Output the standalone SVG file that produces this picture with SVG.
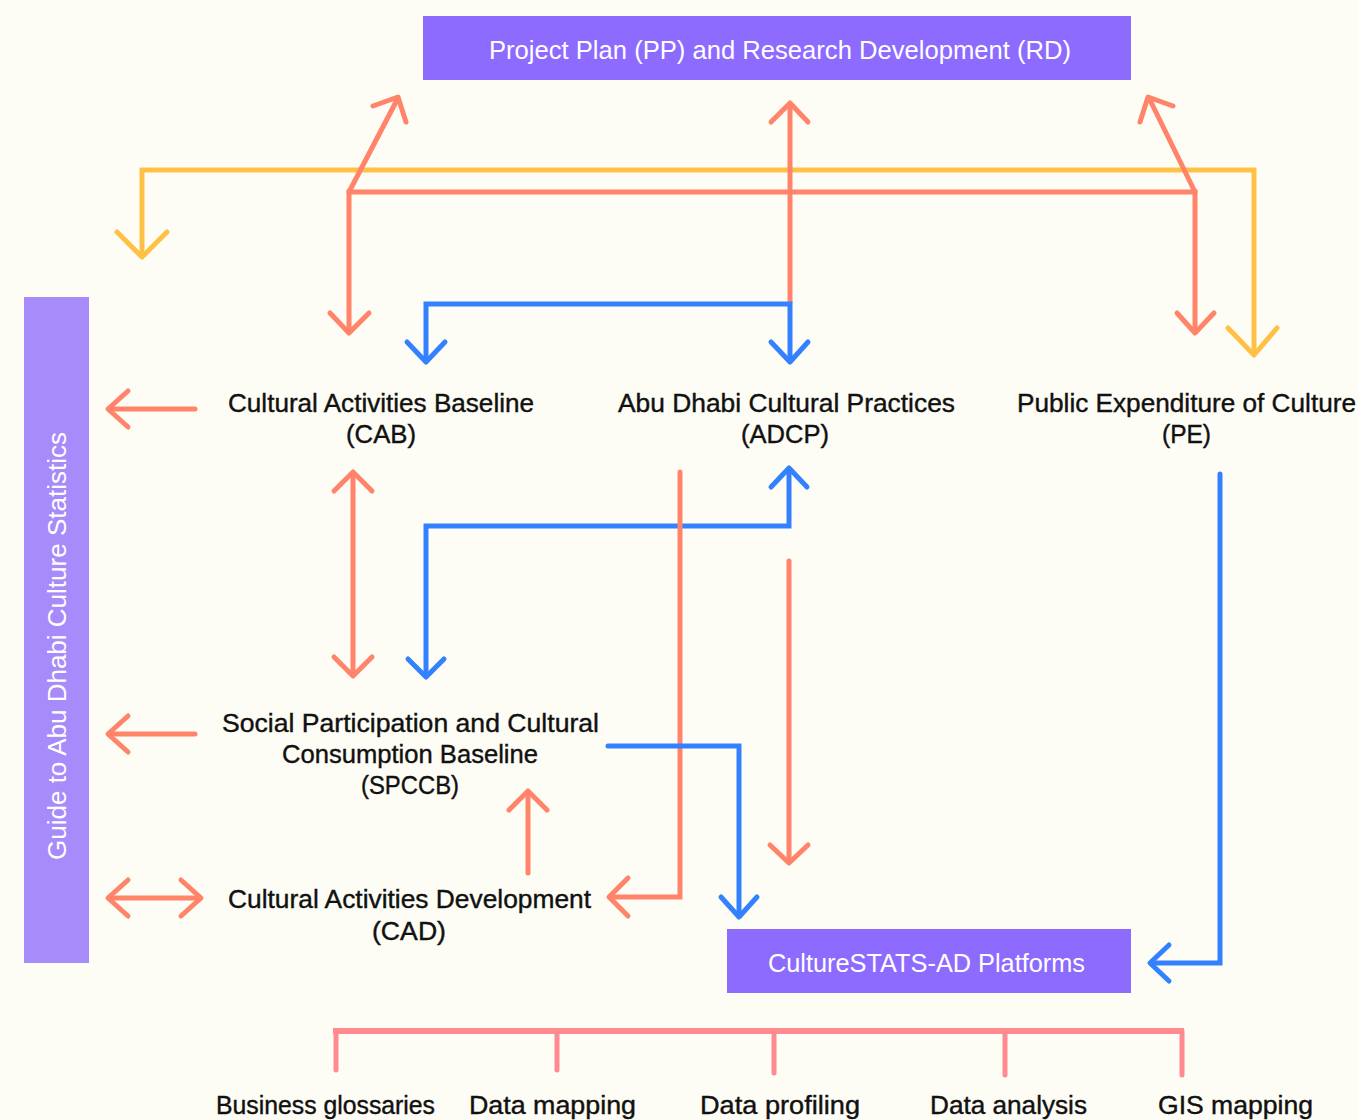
<svg xmlns="http://www.w3.org/2000/svg" width="1359" height="1120" viewBox="0 0 1359 1120">
<style>
.o{fill:none;stroke:#ff846a;stroke-width:5}
.b{fill:none;stroke:#3381ff;stroke-width:5}
.y{fill:none;stroke:#ffc145;stroke-width:5}
.p{fill:none;stroke:#ff8a90;stroke-width:5}
.h{stroke-linecap:round;stroke-linejoin:round}
.e{stroke-linecap:round}
.t{font-family:"Liberation Sans",Arial,sans-serif;font-size:26px;fill:#111;stroke:#111;stroke-width:0.4}
.w{font-family:"Liberation Sans",Arial,sans-serif;font-size:26px;fill:#ffffff}
.s{font-family:"Liberation Sans",Arial,sans-serif;font-size:25px;fill:#111;stroke:#111;stroke-width:0.4}
</style>
<rect x="0" y="0" width="1359" height="1120" fill="#fefdf5"/>

<g id="pp-rd">
<rect x="423" y="16" width="708" height="64" fill="#8d6bff"/>
<text class="w" x="489" y="59" textLength="582" lengthAdjust="spacingAndGlyphs">Project Plan (PP) and Research Development (RD)</text>
</g>

<g id="guide">
<rect x="24" y="297" width="65" height="666" fill="#a78bfa"/>
<text class="w" transform="translate(66,860) rotate(-90)" x="0" y="0" textLength="428" lengthAdjust="spacingAndGlyphs">Guide to Abu Dhabi Culture Statistics</text>
</g>

<g id="cab">
<text class="t" x="228" y="412" textLength="306" lengthAdjust="spacingAndGlyphs">Cultural Activities Baseline</text>
<text class="t" x="346" y="443" textLength="70" lengthAdjust="spacingAndGlyphs">(CAB)</text>
</g>

<g id="adcp">
<text class="t" x="618" y="412" textLength="337" lengthAdjust="spacingAndGlyphs">Abu Dhabi Cultural Practices</text>
<text class="t" x="741" y="443" textLength="88" lengthAdjust="spacingAndGlyphs">(ADCP)</text>
</g>

<g id="pe">
<text class="t" x="1017" y="412" textLength="339" lengthAdjust="spacingAndGlyphs">Public Expenditure of Culture</text>
<text class="t" x="1162" y="443" textLength="49" lengthAdjust="spacingAndGlyphs">(PE)</text>
</g>

<g id="spccb">
<text class="t" x="222" y="732" textLength="377" lengthAdjust="spacingAndGlyphs">Social Participation and Cultural</text>
<text class="t" x="282" y="763" textLength="256" lengthAdjust="spacingAndGlyphs">Consumption Baseline</text>
<text class="t" x="361" y="794" textLength="98" lengthAdjust="spacingAndGlyphs">(SPCCB)</text>
</g>

<g id="cad">
<text class="t" x="228" y="908" textLength="363" lengthAdjust="spacingAndGlyphs">Cultural Activities Development</text>
<text class="t" x="372" y="940" textLength="74" lengthAdjust="spacingAndGlyphs">(CAD)</text>
</g>

<g id="platforms">
<rect x="727" y="929" width="404" height="64" fill="#8d6bff"/>
<text class="w" x="768" y="972" textLength="317" lengthAdjust="spacingAndGlyphs">CultureSTATS-AD Platforms</text>
</g>

<g id="tools">
<text class="s" x="216" y="1114" textLength="219" lengthAdjust="spacingAndGlyphs">Business glossaries</text>
<text class="s" x="469" y="1114" textLength="167" lengthAdjust="spacingAndGlyphs">Data mapping</text>
<text class="s" x="700" y="1114" textLength="160" lengthAdjust="spacingAndGlyphs">Data profiling</text>
<text class="s" x="930" y="1114" textLength="157" lengthAdjust="spacingAndGlyphs">Data analysis</text>
<text class="s" x="1158" y="1114" textLength="155" lengthAdjust="spacingAndGlyphs">GIS mapping</text>
</g>

<g id="connectors">
<path class="y" d="M142 255 V170 H1254 V353"/>
<polyline class="y h" points="117,232 142,257 167,232"/>
<polyline class="y h" points="1228,328 1254,355 1277,328"/>

<path class="o" d="M349 331 V192 H1195 V331"/>
<path class="o e" d="M349 192 L398 98"/>
<polyline class="o h" points="373,106 398,97 406,122"/>
<path class="o e" d="M1195 192 L1149 98"/>
<polyline class="o h" points="1173,106 1148,97 1140,122"/>
<polyline class="o h" points="330,313 349,333 369,313"/>
<polyline class="o h" points="1177,313 1195,333 1214,313"/>
<path class="o" d="M790 104 V303"/>
<polyline class="o h" points="771,122 790,103 808,122"/>

<path class="b" d="M426 360 V304 H790 V360"/>
<polyline class="b h" points="407,342 426,362 445,342"/>
<polyline class="b h" points="771,342 790,362 808,342"/>

<path class="o e" d="M195 409 H109"/>
<polyline class="o h" points="128,391 108,409 128,427"/>
<path class="o e" d="M195 734 H109"/>
<polyline class="o h" points="128,716 108,734 128,752"/>
<path class="o e" d="M109 898 H200"/>
<polyline class="o h" points="128,880 108,898 128,916"/>
<polyline class="o h" points="181,880 201,898 181,916"/>

<path class="o" d="M353 473 V675"/>
<polyline class="o h" points="334,491 353,472 372,491"/>
<polyline class="o h" points="334,657 353,676 372,657"/>

<path class="b" d="M426 676 V526 H789 V469"/>
<polyline class="b h" points="408,659 426,677 444,659"/>
<polyline class="b h" points="771,487 789,468 807,487"/>

<path class="o e" d="M680 472 V897 H611" style="stroke-linejoin:miter"/>
<polyline class="o h" points="628,878 609,897 628,916"/>

<path class="o e" d="M789 561 V861"/>
<polyline class="o h" points="770,845 789,863 808,845"/>

<path class="o e" d="M528 873 V793"/>
<polyline class="o h" points="509,810 528,791 547,810"/>

<path class="b e" d="M608 746 H739 V915"/>
<polyline class="b h" points="721,897 739,917 757,897"/>

<path class="b e" d="M1220 474 V963 H1152"/>
<polyline class="b h" points="1169,945 1150,963 1169,981"/>

<path class="p" d="M333 1031 H1184" style="stroke-width:6"/>
<path class="p e" d="M336 1031 V1070 M557 1031 V1070 M774 1031 V1073 M1005 1031 V1075 M1182 1031 V1075"/>
</g>
</svg>
